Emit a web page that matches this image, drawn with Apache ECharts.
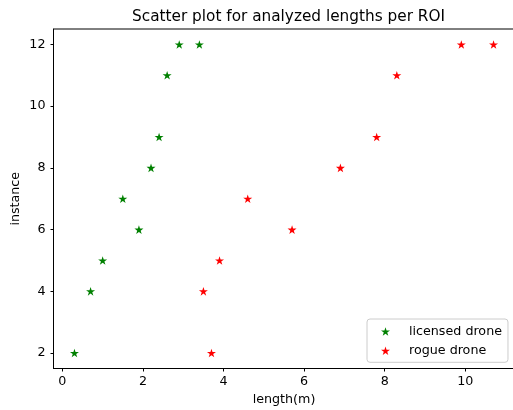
<!DOCTYPE html>
<html>
<head>
<meta charset="utf-8">
<script src="https://cdn.jsdelivr.net/npm/echarts@6/dist/echarts.min.js"></script>
<style>
html,body{margin:0;padding:0;background:#fff;}
#chart{width:513px;height:410px;}
</style>
</head>
<body>
<div id="chart"></div>
<script>
var licensedX = [0.3, 0.7, 1.0, 1.9, 1.5, 2.2, 2.4, 2.6, 2.9, 3.4];
var licensedY = [2, 4, 5, 6, 7, 8, 9, 11, 12, 12];
var rogueX = [3.7, 3.5, 3.9, 5.7, 4.6, 6.9, 7.8, 8.3, 9.9, 10.7];
var rogueY = [2, 4, 5, 6, 7, 8, 9, 11, 12, 12];
var xTicks = [0, 2, 4, 6, 8, 10];
var yTicks = [2, 4, 6, 8, 10, 12];
var seriesNames = ['licensed drone', 'rogue drone'];
var titleText = 'Scatter plot for analyzed lengths per ROI';

var star = 'path://M0,-1 L0.2245,-0.309 L0.9511,-0.309 L0.3633,0.118 L0.5878,0.809 L0,0.382 L-0.5878,0.809 L-0.3633,0.118 L-0.9511,-0.309 L-0.2245,-0.309 Z';
var font = 'DejaVu Sans';

function pairs(xs, ys) { return xs.map(function (x, i) { return [x, ys[i]]; }); }

var chart = echarts.init(document.getElementById('chart'), null, {renderer: 'canvas'});
chart.setOption({
  animation: false,
  backgroundColor: '#fff',
  title: {
    text: titleText, left: 283.5, top: 5, textAlign: 'center',
    textStyle: {fontFamily: font, fontSize: 15.3, fontWeight: 'normal', color: '#000'}
  },
  grid: {left: 53.5, top: 29, right: -1.5, bottom: 41.5, show: true, borderColor: '#000', borderWidth: 1,
         containLabel: false, outerBoundsMode: 'none'},
  xAxis: {
    type: 'value', min: -0.22, max: 11.22,
    name: 'length(m)', nameLocation: 'middle', nameGap: 24.5, nameMoveOverlap: false,
    nameTextStyle: {fontFamily: font, fontSize: 12.7, color: '#000'},
    axisLine: {show: true, onZero: false, lineStyle: {color: '#000', width: 1}},
    axisTick: {show: true, length: 3, lineStyle: {color: '#000'}, customValues: xTicks},
    axisLabel: {fontFamily: font, fontSize: 12.7, color: '#000', margin: 7, customValues: xTicks},
    splitLine: {show: false}
  },
  yAxis: {
    type: 'value', min: 1.5, max: 12.5,
    name: 'instance', nameLocation: 'middle', nameGap: 31, nameMoveOverlap: false,
    nameTextStyle: {fontFamily: font, fontSize: 12.7, color: '#000'},
    axisLine: {show: true, onZero: false, lineStyle: {color: '#000', width: 1}},
    axisTick: {show: true, length: 3, lineStyle: {color: '#000'}, customValues: yTicks},
    axisLabel: {fontFamily: font, fontSize: 12.7, color: '#000', margin: 8, customValues: yTicks},
    splitLine: {show: false}
  },
  legend: {
    orient: 'vertical', left: 367, top: 319,
    padding: [5, 6, 4, 14],
    itemGap: 4.3, itemWidth: 9, itemHeight: 9,
    backgroundColor: 'rgba(255,255,255,0.8)', borderColor: '#ccc', borderWidth: 1, borderRadius: 3,
    textStyle: {fontFamily: font, fontSize: 12.7, color: '#000', padding: [0, 0, 0, 14], lineHeight: 15},
    data: seriesNames
  },
  series: [
    {name: seriesNames[0], type: 'scatter', symbol: star, symbolSize: [9, 8.6],
     itemStyle: {color: 'green', opacity: 1}, data: pairs(licensedX, licensedY)},
    {name: seriesNames[1], type: 'scatter', symbol: star, symbolSize: [9, 8.6],
     itemStyle: {color: 'red', opacity: 1}, data: pairs(rogueX, rogueY)}
  ]
});
</script>
</body>
</html>
